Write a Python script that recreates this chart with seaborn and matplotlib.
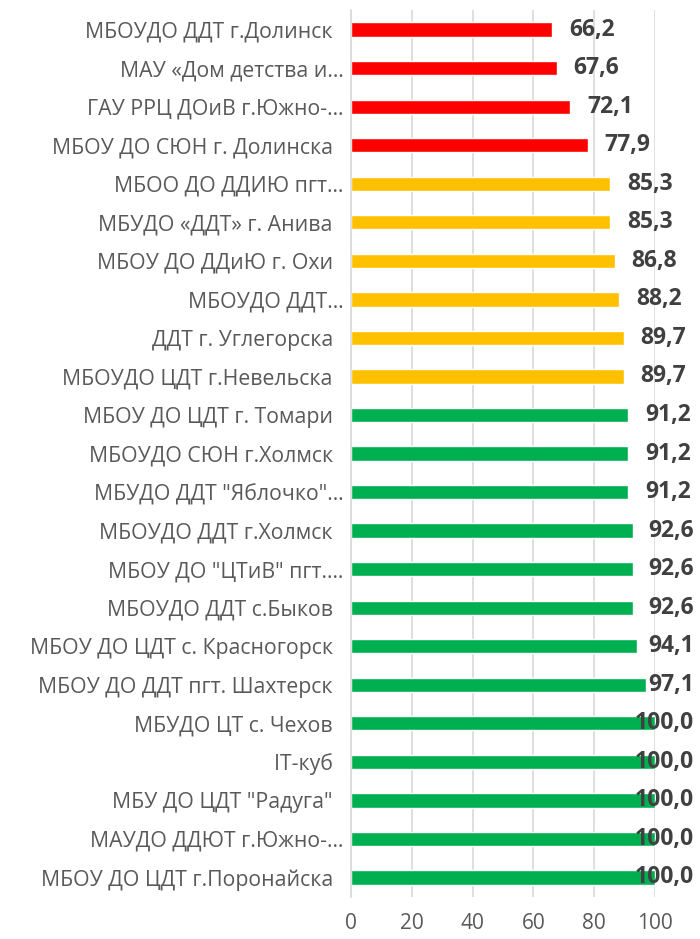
import pandas as pd
import matplotlib.pyplot as plt
import seaborn as sns

categories = [
    "МБОУДО ДДТ г.Долинск  ",
    "МАУ «Дом детства и…",
    "ГАУ РРЦ ДОиВ г.Южно-…",
    "МБОУ ДО СЮН г. Долинска  ",
    "МБОО ДО ДДИЮ пгт…",
    "МБУДО «ДДТ» г. Анива  ",
    "МБОУ ДО ДДиЮ г. Охи  ",
    "МБОУДО ДДТ…",
    "ДДТ г. Углегорска  ",
    "МБОУДО ЦДТ г.Невельска  ",
    "МБОУ ДО ЦДТ г. Томари  ",
    "МБОУДО СЮН г.Холмск  ",
    "МБУДО ДДТ \"Яблочко\"…",
    "МБОУДО ДДТ г.Холмск  ",
    "МБОУ ДО \"ЦТиВ\" пгт.…",
    "МБОУДО ДДТ с.Быков  ",
    "МБОУ ДО ЦДТ с. Красногорск  ",
    "МБОУ ДО ДДТ пгт. Шахтерск  ",
    "МБУДО ЦТ с. Чехов  ",
    "IT-куб  ",
    "МБУ ДО ЦДТ \"Радуга\"  ",
    "МАУДО ДДЮТ г.Южно-…",
    "МБОУ ДО ЦДТ г.Поронайска  ",
]
values = [66.2, 67.6, 72.1, 77.9, 85.3, 85.3, 86.8, 88.2, 89.7, 89.7,
          91.2, 91.2, 91.2, 92.6, 92.6, 92.6, 94.1, 97.1,
          100.0, 100.0, 100.0, 100.0, 100.0]
groups = ["low"] * 4 + ["mid"] * 6 + ["high"] * 13
palette = {"low": "#FF0000", "mid": "#FFC000", "high": "#00B050"}

df = pd.DataFrame({"name": categories, "value": values, "group": groups})

sns.set_style("white")
plt.rcParams["font.family"] = ["Open Sans", "DejaVu Sans"]

fig = plt.figure(figsize=(7, 9.39), dpi=100)
ax = fig.add_axes([0.501, 0.045, 0.435, 0.944])

sns.barplot(data=df, y="name", x="value", hue="group", palette=palette,
            dodge=False, width=0.37, legend=False, ax=ax, saturation=1)

ax.set_xlim(0, 100)
ax.set_xticks(range(0, 101, 20))
ax.set_xlabel("")
ax.set_ylabel("")
ax.grid(axis="x", color="#D9D9D9", linewidth=1.2)
ax.set_axisbelow(True)
for s in ["top", "right", "bottom"]:
    ax.spines[s].set_visible(False)
ax.spines["left"].set_color("#D9D9D9")
ax.spines["left"].set_linewidth(1.2)
ax.tick_params(axis="both", length=0, colors="#595959")
ax.tick_params(axis="y", pad=5, labelsize=15.3)
ax.tick_params(axis="x", pad=12, labelsize=15)

# value labels, pushed left if they would run past the image edge
fig.canvas.draw()
renderer = fig.canvas.get_renderer()
limit_px = 694
for i, v in enumerate(values):
    t = ax.annotate(f"{v:.1f}".replace(".", ","), xy=(v, i), xytext=(12, 0),
                    textcoords="offset points", ha="left", va="center",
                    fontsize=16.5, fontweight="bold", color="#404040",
                    annotation_clip=False)
    bb = t.get_window_extent(renderer)
    if bb.x1 > limit_px:
        shift = (bb.x1 - limit_px) * 72 / fig.dpi
        t.set_position((12 - shift, 0))

fig.savefig("out.png", dpi=100)
